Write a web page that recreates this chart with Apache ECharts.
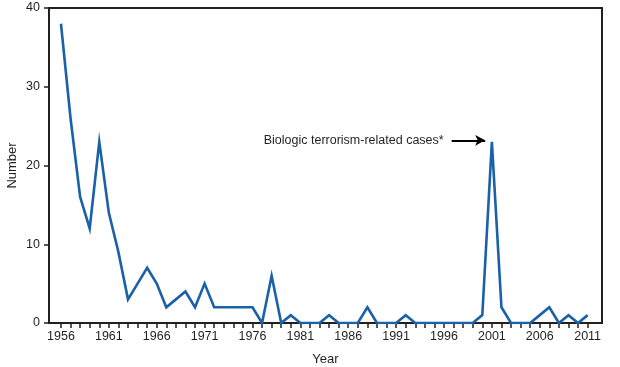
<!DOCTYPE html>
<html>
<head>
<meta charset="utf-8">
<script src="https://cdn.jsdelivr.net/npm/echarts@6/dist/echarts.min.js"></script>
<style>html,body{margin:0;padding:0;background:#fff}#c{width:620px;height:367px}</style>
</head>
<body>
<div id="c"></div>
<script>
const years = [1956,1957,1958,1959,1960,1961,1962,1963,1964,1965,1966,1967,1968,1969,1970,1971,1972,1973,1974,1975,1976,1977,1978,1979,1980,1981,1982,1983,1984,1985,1986,1987,1988,1989,1990,1991,1992,1993,1994,1995,1996,1997,1998,1999,2000,2001,2002,2003,2004,2005,2006,2007,2008,2009,2010,2011];
const counts = [38,26,16,12,23,14,9,3,5,7,5,2,3,4,2,5,2,2,2,2,2,0,6,0,1,0,0,0,1,0,0,0,2,0,0,0,1,0,0,0,0,0,0,0,1,23,2,0,0,0,1,2,0,1,0,1];
const xTickLabels = [1956,1961,1966,1971,1976,1981,1986,1991,1996,2001,2006,2011];
const yTicks = [0,10,20,30,40];
const annotationText = 'Biologic terrorism-related cases*';
const annotationY = 23.2;
const annotationFrom = 1996.8;
const annotationTo = 2000.3;

const ink = '#231f20';
const font = '"Liberation Sans", Arial, sans-serif';
const chart = echarts.init(document.getElementById('c'), null, {renderer: 'canvas'});
chart.setOption({
  animation: false,
  grid: {left: 49, right: 18, top: 8, bottom: 44, containLabel: false, outerBoundsMode: 'none', show: true, borderColor: ink, borderWidth: 2, backgroundColor: 'transparent'},
  xAxis: {
    type: 'value', min: 1954.75, max: 2012.5,
    name: 'Year', nameLocation: 'middle', nameGap: 30, nameMoveOverlap: false,
    nameTextStyle: {color: ink, fontSize: 13, fontFamily: font},
    axisLine: {show: true, lineStyle: {color: ink, width: 2}},
    axisTick: {show: true, inside: false, length: 5, lineStyle: {color: ink, width: 1.5}, customValues: years},
    axisLabel: {color: ink, fontSize: 12.5, fontFamily: font, margin: 7, customValues: xTickLabels, formatter: v => String(v)},
    splitLine: {show: false}
  },
  yAxis: {
    type: 'value', min: 0, max: 40, interval: 10,
    name: 'Number', nameLocation: 'middle', nameGap: 30, nameRotate: 90, nameMoveOverlap: false,
    nameTextStyle: {color: ink, fontSize: 13, fontFamily: font},
    axisLine: {show: true, lineStyle: {color: ink, width: 2}},
    axisTick: {show: true, inside: false, length: 5, lineStyle: {color: ink, width: 1.5}},
    axisLabel: {color: ink, fontSize: 12.5, fontFamily: font, margin: 9},
    splitLine: {show: false}
  },
  series: [{
    type: 'line',
    data: years.map((y, i) => [y, counts[i]]),
    symbol: 'none',
    lineStyle: {color: '#1a61a9', width: 2.6, join: 'miter'},
    markLine: {
      silent: true,
      symbol: ['none', 'arrow'],
      symbolSize: [8, 10],
      lineStyle: {color: '#000', width: 2, type: 'solid'},
      label: {show: true, position: 'start', formatter: annotationText, color: ink, fontSize: 12.5, fontFamily: font, distance: 8},
      data: [[{coord: [annotationFrom, annotationY]}, {coord: [annotationTo, annotationY]}]]
    }
  }]
});
</script>
</body>
</html>
